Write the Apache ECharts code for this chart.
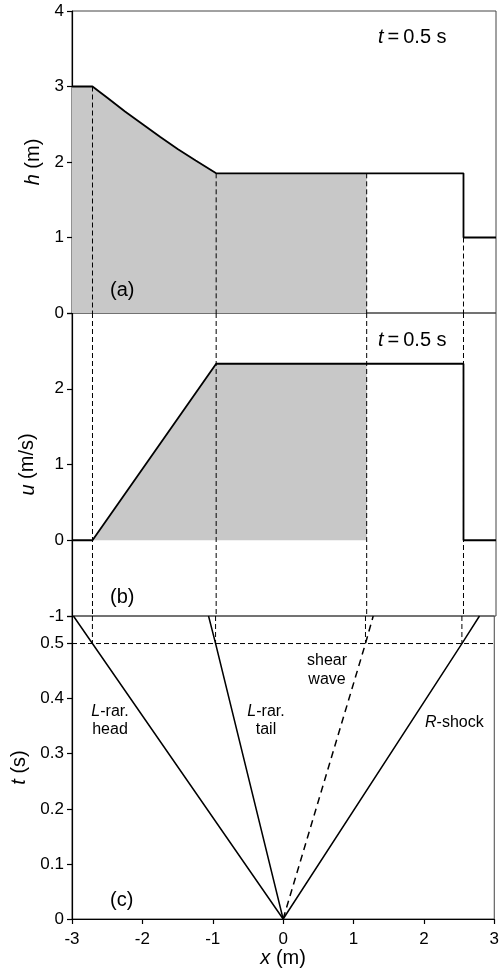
<!DOCTYPE html>
<html>
<head>
<meta charset="utf-8">
<script src="https://cdn.jsdelivr.net/npm/echarts@6/dist/echarts.min.js"></script>
<style>
  html, body { margin: 0; padding: 0; background: #fff; }
  #chart { width: 502px; height: 975px; }
</style>
</head>
<body>
<div id="chart"></div>
<script>
// Dam-break solution: depth and velocity at t = 0.5 s, and the wave fan in the x–t plane

const xTickValues = [-3, -2, -1, 0, 1, 2, 3];
const hTickValues = [0, 1, 2, 3, 4];
const uTickValues = [-1, 0, 1, 2];
const tTickValues = [0, 0.1, 0.2, 0.3, 0.4, 0.5];

// depth profile h(x) at t = 0.5 s
const hX = [-3, -2.71, -2.5, -2.25, -2.0, -1.75, -1.5, -1.25, -0.96, 2.54, 2.54, 3];
const hY = [3, 3, 2.85, 2.67, 2.50, 2.33, 2.17, 2.02, 1.85, 1.85, 1.0, 1.0];

// velocity profile u(x) at t = 0.5 s
const uX = [-3, -2.71, -0.96, 2.54, 2.54, 3];
const uY = [0, 0, 2.33, 2.33, 0, 0];

// wave positions at t = 0.5 s: L-rarefaction head, L-rarefaction tail, shear wave, R-shock
const waveX = [-2.71, -0.96, 1.17, 2.54];
const waveH = [3, 1.85, 1.85, 1.0];
// x reached by each wave at the top edge of the x–t panel
const waveTopX = [-2.98, -1.06, 1.28, 2.79];
const tSnap = 0.5;
const tTop = 0.55;

const FONT = '"Liberation Sans", Arial, Helvetica, sans-serif';
const BLACK = '#000';
const FILL = '#c8c8c8';

const chart = echarts.init(document.getElementById('chart'), null, { renderer: 'canvas' });

const pairs = (xs, ys) => xs.map((x, i) => [x, ys[i]]);
const hLine = pairs(hX, hY);
const uLine = pairs(uX, uY);
const shearX = waveX[2];

// shaded regions: water column left of the shear wave
const hFill = hLine.filter(p => p[0] <= shearX).concat([[shearX, waveH[2]]]);
const uFill = uLine.filter(p => p[0] >= waveX[0] && p[0] <= shearX).concat([[shearX, uY[2]]]);

const gridBase = { left: 72, right: 6, show: true, borderColor: '#444', borderWidth: 1, backgroundColor: 'transparent' };

function xAxis(gridIndex, bottom) {
  return {
    type: 'value', gridIndex, min: -3, max: 3, interval: 1,
    axisLine: { show: bottom, onZero: false, lineStyle: { color: BLACK, width: 1.2 } },
    axisTick: { show: bottom, inside: false, length: 5, lineStyle: { color: BLACK, width: 1.2 } },
    axisLabel: { show: bottom, fontSize: 17, fontFamily: FONT, color: BLACK, margin: 12,
      formatter: v => xTickValues.includes(v) ? String(v) : '' },
    splitLine: { show: false },
    name: bottom ? '{i|x} (m)' : '',
    nameLocation: 'middle', nameGap: 28,
    nameTextStyle: { fontSize: 20, fontFamily: FONT, color: BLACK, rich: { i: { fontStyle: 'italic', fontSize: 20, fontFamily: FONT, color: BLACK } } }
  };
}

function yAxis(gridIndex, min, max, interval, shown, name, gap) {
  return {
    type: 'value', gridIndex, min, max, interval,
    axisLine: { show: true, onZero: false, lineStyle: { color: BLACK, width: 1.2 } },
    axisTick: { show: true, inside: false, length: 5, lineStyle: { color: BLACK, width: 1.2 } },
    axisLabel: {
      fontSize: 17, fontFamily: FONT, color: BLACK, margin: 8,
      formatter: v => shown.some(s => Math.abs(s - v) < 1e-9) ? String(+v.toFixed(2)) : ''
    },
    splitLine: { show: false },
    name, nameLocation: 'middle', nameGap: gap, nameRotate: 90,
    nameTextStyle: { fontSize: 20, fontFamily: FONT, color: BLACK, rich: { i: { fontStyle: 'italic', fontSize: 20, fontFamily: FONT, color: BLACK } } }
  };
}

const dash = { color: BLACK, width: 1, type: [5, 3] };
const series = [];

// panel (a): shaded depth, then the dashed wave markers, then the profile
series.push({ type: 'line', xAxisIndex: 0, yAxisIndex: 0, data: hFill, symbol: 'none', z: 1,
  lineStyle: { width: 0 }, areaStyle: { color: FILL, opacity: 1 } });
waveX.forEach((x, i) => series.push({ type: 'line', xAxisIndex: 0, yAxisIndex: 0, symbol: 'none', z: 3,
  data: [[x, waveH[i]], [x, 0]], lineStyle: dash }));
series.push({ type: 'line', xAxisIndex: 0, yAxisIndex: 0, data: hLine, symbol: 'none', z: 4,
  lineStyle: { color: BLACK, width: 1.8 } });

// panel (b): velocity
series.push({ type: 'line', xAxisIndex: 1, yAxisIndex: 1, data: uFill, symbol: 'none', z: 1,
  lineStyle: { width: 0 }, areaStyle: { color: FILL, opacity: 1, origin: 0 } });
waveX.forEach(x => series.push({ type: 'line', xAxisIndex: 1, yAxisIndex: 1, symbol: 'none', z: 3,
  data: [[x, 3], [x, -1]], lineStyle: dash }));
series.push({ type: 'line', xAxisIndex: 1, yAxisIndex: 1, data: uLine, symbol: 'none', z: 4,
  lineStyle: { color: BLACK, width: 1.8 } });

// panel (c): characteristic fan from the dam at the origin
waveX.forEach(x => series.push({ type: 'line', xAxisIndex: 2, yAxisIndex: 2, symbol: 'none', z: 3,
  data: [[x, tTop], [x, tSnap]], lineStyle: dash }));
series.push({ type: 'line', xAxisIndex: 2, yAxisIndex: 2, symbol: 'none', z: 3,
  data: [[-3, tSnap], [3, tSnap]], lineStyle: dash });
waveTopX.forEach((x, i) => series.push({ type: 'line', xAxisIndex: 2, yAxisIndex: 2, symbol: 'none', z: 4,
  data: [[0, 0], [waveX[i], tSnap], [x, tTop]],
  lineStyle: i === 2 ? { color: BLACK, width: 1.5, type: [7, 5] } : { color: BLACK, width: 1.5 } }));

function label(x, y, text, size, align, lineHeight) {
  const lh = lineHeight || size;
  const rich = { i: { fontStyle: 'italic', fontFamily: FONT, fill: BLACK, fontSize: size, lineHeight: lh } };
  return { type: 'text', x, y, z: 10, style: {
    text, fontSize: size, fontFamily: FONT, fill: BLACK,
    align: align || 'left', verticalAlign: 'middle', lineHeight: lh, rich } };
}

const option = {
  animation: false,
  backgroundColor: '#fff',
  grid: [
    Object.assign({ top: 11, height: 302 }, gridBase),
    Object.assign({ top: 313, height: 303 }, gridBase),
    Object.assign({ top: 616, height: 303 }, gridBase)
  ],
  xAxis: [xAxis(0, false), xAxis(1, false), xAxis(2, true)],
  yAxis: [
    yAxis(0, 0, 4, 1, hTickValues, '{i|h} (m)', 28),
    yAxis(1, -1, 3, 1, uTickValues, '{i|u} (m/s)', 28),
    yAxis(2, 0, tTop, 0.1, tTickValues, '{i|t} (s)', 40)
  ],
  series,
  graphic: [
    label(378, 37, '{i|t}\u2009=\u20090.5 s', 20),
    label(378, 340, '{i|t}\u2009=\u20090.5 s', 20),
    label(110, 290, '(a)', 20),
    label(110, 597, '(b)', 20),
    label(110, 900, '(c)', 20),
    label(110, 721, '{i|L}-rar.\nhead', 16, 'center', 18),
    label(266, 721, '{i|L}-rar.\ntail', 16, 'center', 18),
    label(327, 670, 'shear\nwave', 16, 'center', 19),
    label(425, 723, '{i|R}-shock', 16)
  ]
};

chart.setOption(option);
</script>
</body>
</html>
